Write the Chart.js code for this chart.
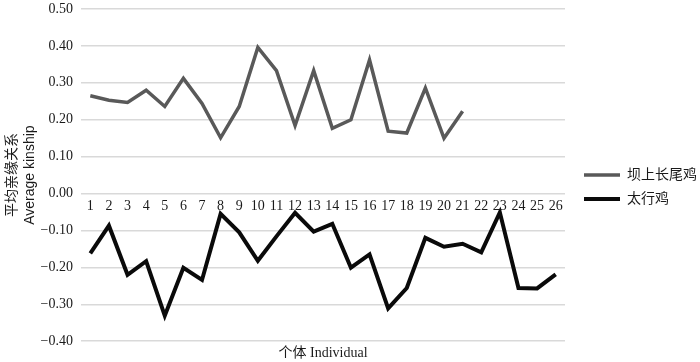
<!DOCTYPE html>
<html>
<head>
<meta charset="utf-8">
<script src="https://cdn.jsdelivr.net/npm/chart.js@4"></script>
<style>
  body { margin: 0; background: #fff; }
  #wrap { width: 700px; height: 362px; }
</style>
</head>
<body>
<div id="wrap"><canvas id="c"></canvas></div>
<script>
const individuals = ['1','2','3','4','5','6','7','8','9','10','11','12','13','14','15','16','17','18','19','20','21','22','23','24','25','26'];
const bashangName = '坝上长尾鸡';
const bashang = [0.265, 0.253, 0.247, 0.280, 0.236, 0.312, 0.244, 0.151, 0.236, 0.396, 0.333, 0.184, 0.333, 0.177, 0.200, 0.362, 0.169, 0.164, 0.286, 0.150, 0.223];
const taihangName = '太行鸡';
const taihang = [-0.162, -0.087, -0.220, -0.183, -0.331, -0.201, -0.234, -0.055, -0.105, -0.182, -0.116, -0.052, -0.103, -0.082, -0.201, -0.165, -0.311, -0.256, -0.120, -0.144, -0.136, -0.159, -0.051, -0.256, -0.257, -0.219];
const yTitle = ['平均亲缘关系', 'Average kinship'];
const xTitle = '个体 Individual';

const fam = "'Liberation Serif', 'Noto Sans CJK SC', serif";
Chart.defaults.font.family = fam;
Chart.defaults.font.size = 14;
Chart.defaults.color = '#1a1a1a';

new Chart(document.getElementById('c'), {
    type: 'line',
    data: {
        labels: individuals,
        datasets: [
            {
                label: bashangName,
                data: bashang,
                borderColor: '#595959',
                backgroundColor: '#595959',
                borderWidth: 3.5,
                pointRadius: 0,
                tension: 0
            },
            {
                label: taihangName,
                data: taihang,
                borderColor: '#0a0a0a',
                backgroundColor: '#0a0a0a',
                borderWidth: 4,
                pointRadius: 0,
                tension: 0
            }
        ]
    },
    options: {
        responsive: true,
        maintainAspectRatio: false,
        animation: false,
        layout: { padding: { top: 0, right: 0, left: 2, bottom: 0 } },
        scales: {
            x: {
                position: { y: 0 },
                offset: true,
                grid: { display: false, drawTicks: false },
                border: { display: false },
                ticks: { autoSkip: false, maxRotation: 0, padding: 4 }
            },
            x2: {
                type: 'category',
                labels: individuals,
                position: 'bottom',
                offset: true,
                grid: { display: false, drawTicks: false },
                border: { display: false },
                ticks: { display: false },
                title: { display: true, text: xTitle, padding: { top: 4, bottom: 0 } }
            },
            y: {
                min: -0.4,
                max: 0.5,
                grid: { color: '#d9d9d9', lineWidth: 1.5, drawTicks: false },
                border: { display: false },
                ticks: {
                    stepSize: 0.1,
                    padding: 8,
                    callback: v => v.toFixed(2).replace('-', '\u2212')
                },
                title: {
                    display: true,
                    text: yTitle,
                    padding: { top: 1, bottom: 0 },
                    font: { family: "'Liberation Sans', 'Noto Sans CJK SC', sans-serif", size: 14, lineHeight: 1.3 }
                },
                afterFit: s => {
                    s.width = 79;
                    s.paddingTop = 9;
                    s.paddingBottom = 9;
                }
            },
            // empty spacer between plot and legend
            y2: {
                position: 'right',
                grid: { display: false, drawTicks: false },
                border: { display: false },
                ticks: { display: false },
                afterFit: s => { s.width = 9; }
            }
        },
        plugins: {
            legend: {
                position: 'right',
                maxWidth: 126,
                // blank title only nudges the entries down a little
                title: { display: true, text: ' ', padding: 0, font: { size: 10 } },
                labels: {
                    usePointStyle: true,
                    pointStyle: 'line',
                    pointStyleWidth: 36,
                    boxWidth: 36,
                    padding: 10
                }
            },
            tooltip: { enabled: false }
        }
    }
});
</script>
</body>
</html>
